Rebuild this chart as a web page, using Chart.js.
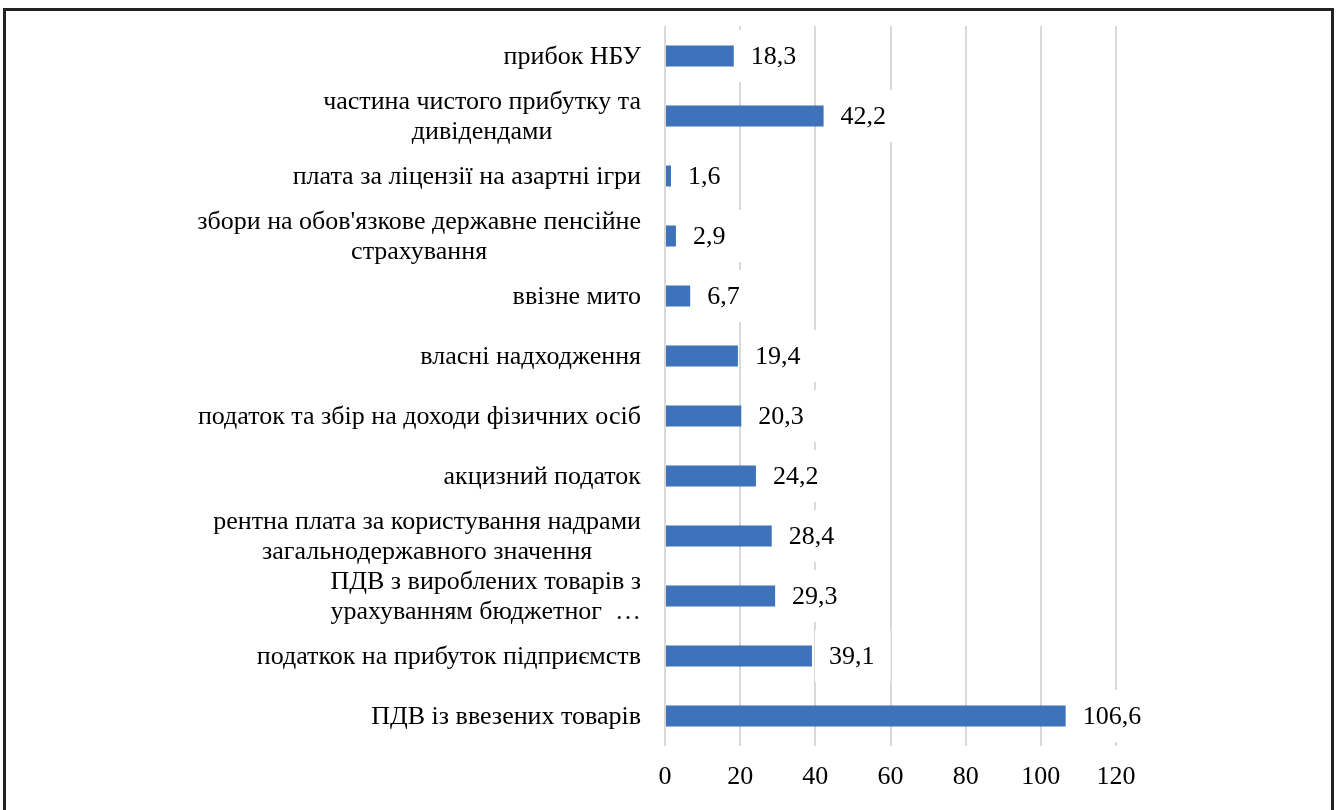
<!DOCTYPE html>
<html>
<head>
<meta charset="utf-8">
<script src="https://cdn.jsdelivr.net/npm/chart.js@4/dist/chart.umd.min.js"></script>
<style>
  html, body { margin: 0; padding: 0; background: #fff; overflow: hidden; }
  #wrap { position: relative; width: 1337px; height: 810px; }
  #frame {
    position: absolute; left: 3px; top: 8px; width: 1331px; height: 830px;
    border: 3px solid #222; box-sizing: border-box; pointer-events: none;
  }
  canvas { position: absolute; left: 0; top: 0; }
</style>
</head>
<body>
<div id="wrap">
  <canvas id="chart" width="1337" height="810"></canvas>
  <div id="frame"></div>
</div>
<script>
// categories, top to bottom
const categories = [
  "прибок НБУ",
  ["частина чистого прибутку та", "дивідендами"],
  "плата за ліцензії на азартні ігри",
  ["збори на обов'язкове державне пенсійне", "страхування"],
  "ввізне мито",
  "власні надходження",
  "податок та збір на доходи фізичних осіб",
  "акцизний податок",
  ["рентна плата за користування надрами", "загальнодержавного значення"],
  ["ПДВ з вироблених товарів з", "урахуванням бюджетног  …"],
  "податкок на прибуток підприємств",
  "ПДВ із ввезених товарів"
];

// values
const values = [18.3, 42.2, 1.6, 2.9, 6.7, 19.4, 20.3, 24.2, 28.4, 29.3, 39.1, 106.6];

// x axis ticks
const xMin = 0;
const xMax = 120;
const xStep = 20;

const FONT = '"Liberation Serif", "Times New Roman", serif';
const BAR_COL = "#3E72BA";

// category labels (right aligned, wrapped lines centered to each other)
const catLabels = {
  id: "catLabels",
  afterDraw(chart) {
    const ctx = chart.ctx;
    const yScale = chart.scales.y;
    const right = chart.chartArea.left - 24;
    const lh = 30;
    ctx.save();
    ctx.font = "26px " + FONT;
    ctx.fillStyle = "#000";
    ctx.textBaseline = "middle";
    ctx.textAlign = "center";
    categories.forEach((lab, i) => {
      const lines = Array.isArray(lab) ? lab : [lab];
      const w = Math.max(...lines.map(l => ctx.measureText(l).width));
      const cx = right - w / 2;
      const cy = yScale.getPixelForValue(i) + 1;
      const y0 = cy - (lines.length - 1) * lh / 2;
      lines.forEach((l, k) => ctx.fillText(l, cx, y0 + k * lh));
    });
    ctx.restore();
  }
};

// value labels with white box
const valLabels = {
  id: "valLabels",
  afterDatasetsDraw(chart) {
    const ctx = chart.ctx;
    const meta = chart.getDatasetMeta(0);
    ctx.save();
    ctx.font = "26px " + FONT;
    ctx.textBaseline = "middle";
    ctx.textAlign = "left";
    meta.data.forEach((bar, i) => {
      const txt = values[i].toFixed(1).replace(".", ",");
      const w = ctx.measureText(txt).width;
      const tx = bar.x + 17;
      ctx.fillStyle = "#fff";
      ctx.fillRect(bar.x + 3, bar.y - 26, (tx + w + 16) - (bar.x + 3), 52);
      ctx.fillStyle = "#000";
      ctx.fillText(txt, tx, bar.y + 1);
    });
    ctx.restore();
  }
};

new Chart(document.getElementById("chart").getContext("2d"), {
  type: "bar",
  data: {
    labels: categories,
    datasets: [{
      data: values,
      backgroundColor: BAR_COL,
      borderWidth: 0,
      barPercentage: 0.35,
      categoryPercentage: 1
    }]
  },
  options: {
    indexAxis: "y",
    responsive: false,
    animation: false,
    layout: { padding: { left: 665, right: 221, top: 26, bottom: 0 } },
    plugins: {
      legend: { display: false },
      tooltip: { enabled: false }
    },
    scales: {
      y: { display: false },
      x: {
        min: xMin,
        max: xMax,
        border: { display: false },
        grid: { color: "#d9d9d9", lineWidth: 2, drawTicks: false },
        ticks: {
          stepSize: xStep,
          color: "#000",
          padding: 16,
          font: { family: FONT, size: 26 }
        },
        afterFit(scale) { scale.height = 64; }
      }
    }
  },
  plugins: [catLabels, valLabels]
});
</script>
</body>
</html>
